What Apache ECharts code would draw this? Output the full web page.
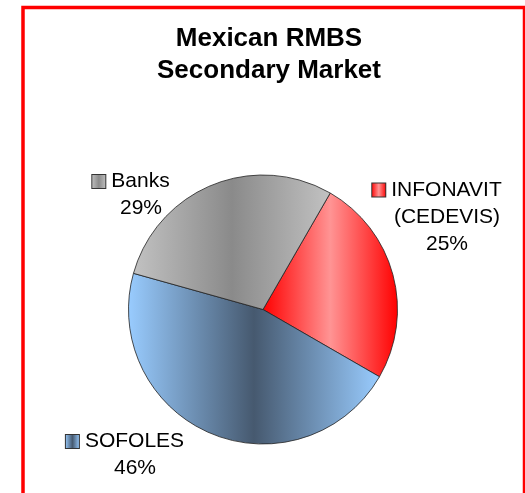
<!DOCTYPE html>
<html>
<head>
<meta charset="utf-8">
<script src="https://cdn.jsdelivr.net/npm/echarts@6/dist/echarts.min.js"></script>
<style>
  html, body { margin: 0; padding: 0; background: #fff; }
  #chart { width: 525px; height: 493px; }
</style>
</head>
<body>
<div id="chart"></div>
<script>
// Segment names and their market shares (%)
const categories = ['INFONAVIT\n(CEDEVIS)', 'SOFOLES', 'Banks'];
const shares = [25, 46, 29];

// Rich-text keys for the small coloured squares in front of each label
const keyTokens = ['kInf', 'kSof', 'kBank'];

// Edge / centre colours of each slice's horizontal gradient
const edgeColors = ['#ff0000', '#99ccff', '#c2c2c2'];
const midColors = ['#ff9494', '#46596f', '#8a8a8a'];

// Where each label block is centred
const labelSpots = [[437, 217], [125, 455], [131, 195]];

const FONT = '"Liberation Sans", Arial, sans-serif';

function band(edge, mid) {
  return new echarts.graphic.LinearGradient(0, 0, 1, 0, [
    { offset: 0, color: edge },
    { offset: 0.5, color: mid },
    { offset: 1, color: edge }
  ]);
}

const rich = {
  t: { fontSize: 21, lineHeight: 27, color: '#000', fontFamily: FONT },
  g: { width: 6 },
  sp: { width: 20 }
};
keyTokens.forEach((k, i) => {
  rich[k] = {
    width: 13, height: 13,
    backgroundColor: band(edgeColors[i], midColors[i]),
    borderColor: '#333', borderWidth: 1
  };
});

const chart = echarts.init(document.getElementById('chart'), null, { renderer: 'canvas' });

chart.setOption({
  animation: false,
  backgroundColor: '#fff',
  title: {
    text: 'Mexican RMBS\nSecondary Market',
    left: 269,
    textAlign: 'center',
    top: 23,
    padding: 0,
    textStyle: {
      fontFamily: FONT,
      fontWeight: 'bold',
      fontSize: 26,
      lineHeight: 32,
      color: '#000'
    }
  },
  graphic: [{
    type: 'rect',
    silent: true,
    shape: { x: 23, y: 7.5, width: 501.5, height: 600 },
    style: { fill: 'none', stroke: '#ff0000', lineWidth: 3.5 }
  }],
  series: [{
    type: 'pie',
    center: [263, 309.5],
    radius: 134.5,
    startAngle: 60,
    clockwise: true,
    silent: true,
    itemStyle: { borderColor: '#222', borderWidth: 0.8 },
    data: categories.map((name, i) => ({
      name: name,
      value: shares[i],
      itemStyle: { color: band(edgeColors[i], midColors[i]) }
    })),
    label: {
      show: true,
      position: 'outside',
      align: 'center',
      overflow: 'none',
      rich: rich,
      formatter: function (p) {
        const lines = p.name.split('\n');
        lines.push(p.value + '%');
        return lines.map((l, k) =>
          (k === 0 ? '{' + keyTokens[p.dataIndex] + '|}{g|}' : '{sp|}') + '{t|' + l + '}'
        ).join('\n');
      }
    },
    labelLine: { show: false },
    labelLayout: function (params) {
      const s = labelSpots[params.dataIndex];
      return { x: s[0], y: s[1], align: 'center', verticalAlign: 'middle' };
    }
  }]
});
</script>
</body>
</html>
